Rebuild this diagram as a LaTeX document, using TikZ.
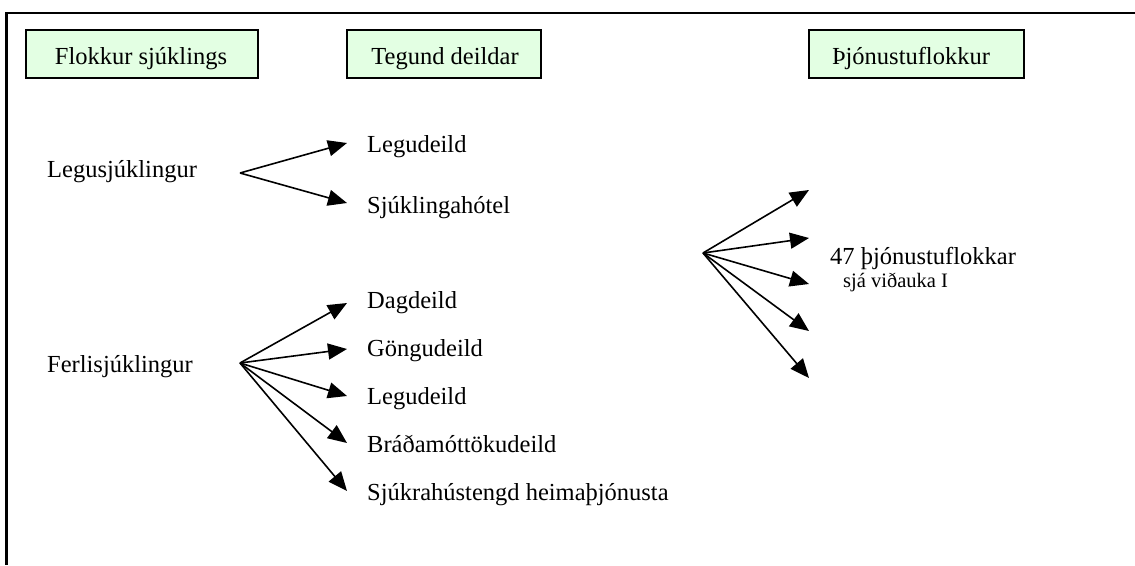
\documentclass[tikz,border=0pt]{standalone}
\usepackage{fontspec}
\setmainfont{Liberation Serif}
\usetikzlibrary{arrows.meta}
\definecolor{boxgreen}{RGB}{227,255,227}
\tikzset{
  hdrbox/.style={draw=black, line width=1.3pt, fill=boxgreen},
  lbl/.style={anchor=base west, inner sep=0pt, font=\fontsize{24.5}{28}\selectfont},
  small/.style={anchor=base west, inner sep=0pt, font=\fontsize{20.5}{24}\selectfont},
  arr/.style={line width=1.6pt, -{Triangle[length=19pt,width=16pt]}},
  frame/.style={line width=2.7pt}
}
\begin{document}
\begin{tikzpicture}[x=1pt,y=-1pt]
\useasboundingbox (0,0) rectangle (1135,565);
% frame
\coordinate (ftl) at (6.5,13);
\coordinate (ftr) at (1135,13);
\coordinate (fbl) at (6.5,565);
\draw[frame] (ftr) -- (ftl) -- (fbl);
% header boxes
\draw[hdrbox] (26,30) rectangle (258,78);
\draw[hdrbox] (347,30) rectangle (541,78);
\draw[hdrbox] (809,30) rectangle (1024,78);
\node[lbl, anchor=base] (h1) at (141,64) {Flokkur sjúklings};
\node[lbl, anchor=base] (h2) at (445,64) {Tegund deildar};
\node[lbl, anchor=base] (h3) at (911,64) {Þjónustuflokkur};
% left column
\node[lbl] (legus) at (47,177) {Legusjúklingur};
\node[lbl] (ferlis) at (47,372) {Ferlisjúklingur};
% middle column
\node[lbl] (legu1) at (367,152) {Legudeild};
\node[lbl] (hotel) at (367,213) {Sjúklingahótel};
\node[lbl] (dag) at (367,308) {Dagdeild};
\node[lbl] (gongu) at (367,356) {Göngudeild};
\node[lbl] (legu2) at (367,404) {Legudeild};
\node[lbl] (brada) at (367,452) {Bráðamóttökudeild};
\node[lbl] (heima) at (367,500) {Sjúkrahústengd heimaþjónusta};
% right column
\node[lbl] (thj) at (830,264) {47 þjónustuflokkar};
\node[small] (vid) at (843,287) {sjá viðauka I};
% branch points and tips
\coordinate (bl) at (240,173);
\coordinate (bf) at (240,363);
\coordinate (br) at (703,253);
\coordinate (tl1) at (347,143);
\coordinate (tl2) at (347,203);
\coordinate (tf1) at (347,303);
\coordinate (tf2) at (347,349);
\coordinate (tf3) at (347,396);
\coordinate (tf4) at (347,443);
\coordinate (tf5) at (347,491);
\coordinate (tr1) at (809,190);
\coordinate (tr2) at (809,238);
\coordinate (tr3) at (809,284);
\coordinate (tr4) at (809,331);
\coordinate (tr5) at (809,378);
\foreach \t in {tl1,tl2} \draw[arr] (bl) -- (\t);
\foreach \t in {tf1,tf2,tf3,tf4,tf5} \draw[arr] (bf) -- (\t);
\foreach \t in {tr1,tr2,tr3,tr4,tr5} \draw[arr] (br) -- (\t);
\end{tikzpicture}
\end{document}
